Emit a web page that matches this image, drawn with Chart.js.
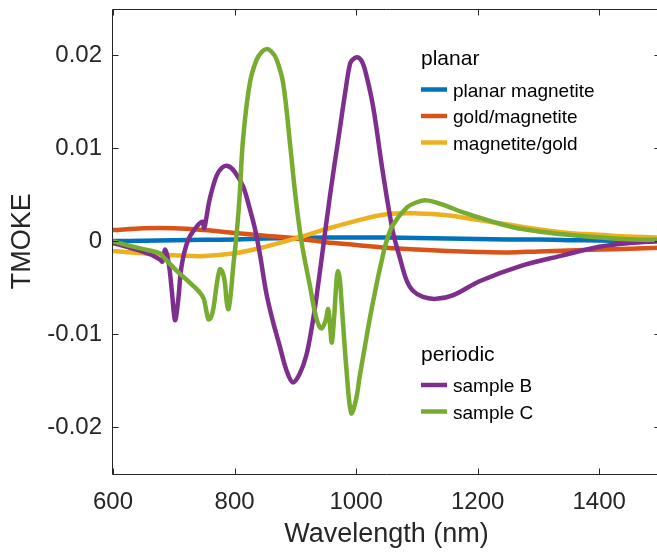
<!DOCTYPE html>
<html><head><meta charset="utf-8">
<script src="https://cdn.jsdelivr.net/npm/chart.js@4.4.1/dist/chart.umd.min.js"></script>
<style>
html,body{margin:0;padding:0;overflow:hidden;background:#fff;width:657px;height:552px}
#wrap{position:absolute;left:0;top:0;width:665px;height:552px}
</style>
</head><body><div id="wrap"><canvas id="c" width="665" height="552"></canvas></div>
<script>
// ---- data ----
const xTickValues = [600, 800, 1000, 1200, 1400];
const yTickValues = [-0.02, -0.01, 0, 0.01, 0.02];
const xRange = [600, 1500];
const yRange = [-0.025, 0.025];
const xTitle = 'Wavelength (nm)';
const yTitle = 'TMOKE';
const seriesNames = ['planar magnetite', 'gold/magnetite', 'magnetite/gold', 'sample B', 'sample C'];
const legendGroups = ['planar', 'periodic'];

const planarWl = [600,650,700,750,800,850,900,950,1000,1050,1100,1150,1200,1250,1300,1350,1400,1450,1500];
const planarMagnetite = [0.00003,0.00005,0.0001,0.00015,0.0002,0.0003,0.00035,0.0004,0.0004,0.0004,0.00035,0.0003,0.00025,0.0002,0.00018,0.00012,0.00008,0.00005,0.00003];
const goldMagnetite = [0.0012,0.0014,0.0014,0.0012,0.0009,0.0006,0.0003,-0.0001,-0.0004,-0.0007,-0.0009,-0.00105,-0.00115,-0.0012,-0.0011,-0.001,-0.0009,-0.0008,-0.0007];
const magnetiteGold = [-0.00105,-0.0013,-0.0015,-0.0016,-0.0013,-0.0006,0.0003,0.0013,0.0022,0.0029,0.003,0.0028,0.0023,0.0018,0.0013,0.0009,0.0007,0.0005,0.0004];

const sampleBWl = [600,628,661,678,681,686,692,697,702,707,713,724,738,747,750,753,759,770,779,789,800,814,825,833,842,852,863,874,885,896,907,918,927,935,946,957,965,973,982,990,995,1003,1010,1016,1028,1044,1060,1072,1083,1093,1110,1132,1160,1203,1269,1335,1400,1450,1500];
const sampleB = [-0.0002,-0.0007,-0.0014,-0.002,-0.0022,-0.0009,-0.0025,-0.0055,-0.0085,-0.0065,-0.0026,0.0002,0.0016,0.0021,0.0014,0.0023,0.0045,0.007,0.0079,0.0081,0.0075,0.0059,0.0035,0.0015,-0.0015,-0.0055,-0.0086,-0.0112,-0.0138,-0.0152,-0.0143,-0.0123,-0.0093,-0.0059,-0.0005,0.0049,0.0085,0.012,0.016,0.0191,0.0196,0.0198,0.0193,0.0181,0.0145,0.0074,0.0012,-0.0018,-0.0042,-0.0053,-0.006,-0.0062,-0.0058,-0.0043,-0.0027,-0.0016,-0.0006,-0.0002,0];

const sampleCWl = [600,628,660,677,683,705,732,748,753,757,761,765,771,776,780,784,787,790,794,798,803,808,814,825,836,845,853,861,869,880,892,900,910,924,935,943,950,954,957,960,964,968,970,973,976,984,992,1000,1006,1014,1022,1031,1039,1050,1061,1083,1100,1115,1140,1176,1220,1258,1300,1340,1380,1422,1460,1500];
const sampleC = [0,-0.0005,-0.001,-0.0013,-0.0017,-0.0032,-0.0048,-0.006,-0.0073,-0.0084,-0.0082,-0.0073,-0.0045,-0.003,-0.0033,-0.0044,-0.0065,-0.0073,-0.0055,-0.0026,0.0005,0.0045,0.011,0.017,0.0195,0.0204,0.0207,0.0204,0.0196,0.017,0.01,0.005,0,-0.0048,-0.0084,-0.0094,-0.0085,-0.0073,-0.009,-0.0109,-0.008,-0.004,-0.0032,-0.004,-0.0065,-0.0137,-0.0185,-0.017,-0.0145,-0.0115,-0.0085,-0.0055,-0.003,0,0.0018,0.0036,0.0042,0.0044,0.004,0.0031,0.0022,0.0015,0.00105,0.00075,0.0005,0.0003,0.0002,0.00015];

// ---- styling ----
const FONT = '"Liberation Sans", Arial, Helvetica, sans-serif';
const AXIS_COLOR = '#262626';
const colors = ['#0072BD', '#D95319', '#EDB120', '#7E2F8E', '#77AC30'];

const pairs = (xs, ys) => xs.map((x, i) => ({x: x, y: ys[i]}));

const datasets = [
  {label: seriesNames[0], data: pairs(planarWl, planarMagnetite), borderColor: colors[0], order: 5},
  {label: seriesNames[1], data: pairs(planarWl, goldMagnetite), borderColor: colors[1], order: 4},
  {label: seriesNames[2], data: pairs(planarWl, magnetiteGold), borderColor: colors[2], order: 3},
  {label: seriesNames[3], data: pairs(sampleBWl, sampleB), borderColor: colors[3], order: 2},
  {label: seriesNames[4], data: pairs(sampleCWl, sampleC), borderColor: colors[4], order: 1}
];

const boxPlugin = {
  id: 'boxTicks',
  afterDatasetsDraw(chart) {
    const {ctx, chartArea: a, scales: {x, y}} = chart;
    const L = 6;
    ctx.save();
    ctx.strokeStyle = AXIS_COLOR;
    ctx.lineWidth = 1;
    ctx.beginPath();
    const left = Math.round(a.left) - 0.5, right = Math.round(a.right) + 0.5;
    const top = Math.round(a.top) + 0.5, bottom = Math.round(a.bottom) + 0.5;
    ctx.moveTo(left, top); ctx.lineTo(right, top); ctx.lineTo(right, bottom); ctx.lineTo(left, bottom); ctx.closePath();
    xTickValues.forEach(v => {
      const px = Math.round(x.getPixelForValue(v)) + 0.5;
      ctx.moveTo(px, bottom); ctx.lineTo(px, bottom - L);
      ctx.moveTo(px, top); ctx.lineTo(px, top + L);
    });
    yTickValues.forEach(v => {
      const py = Math.round(y.getPixelForValue(v)) + 0.5;
      ctx.moveTo(left, py); ctx.lineTo(left + L, py);
      ctx.moveTo(right, py); ctx.lineTo(right - L, py);
    });
    ctx.stroke();
    ctx.restore();
  }
};

const legendPlugin = {
  id: 'groupLegend',
  afterDraw(chart) {
    const ctx = chart.ctx;
    const groups = [
      {title: legendGroups[0], titleY: 65, items: [0, 1, 2], lineY: [89.5, 116, 142.5]},
      {title: legendGroups[1], titleY: 361, items: [3, 4], lineY: [385, 411.5]}
    ];
    ctx.save();
    ctx.textBaseline = 'alphabetic';
    ctx.textAlign = 'left';
    groups.forEach(g => {
      ctx.fillStyle = '#000';
      ctx.font = '21px ' + FONT;
      ctx.fillText(g.title, 421, g.titleY);
      g.items.forEach((idx, k) => {
        const ly = g.lineY[k];
        ctx.strokeStyle = colors[idx];
        ctx.lineWidth = 4.5;
        ctx.lineCap = 'butt';
        ctx.beginPath();
        ctx.moveTo(421, ly); ctx.lineTo(447, ly);
        ctx.stroke();
        ctx.fillStyle = '#000';
        ctx.font = '19px ' + FONT;
        ctx.fillText(seriesNames[idx], 453, ly + 7);
      });
    });
    ctx.restore();
  }
};

new Chart(document.getElementById('c'), {
  type: 'line',
  data: {datasets: datasets},
  plugins: [boxPlugin, legendPlugin],
  options: {
    responsive: false,
    animation: false,
    devicePixelRatio: 1,
    layout: {padding: {top: 9, right: 5, left: 0, bottom: 0}},
    plugins: {legend: {display: false}, tooltip: {enabled: false}},
    elements: {
      point: {radius: 0, hoverRadius: 0},
      line: {borderWidth: 4.5, tension: 0.35, borderJoinStyle: 'round', borderCapStyle: 'butt', fill: false}
    },
    scales: {
      x: {
        type: 'linear', min: xRange[0], max: xRange[1],
        grid: {display: false, drawTicks: false},
        border: {display: false},
        afterBuildTicks: s => { s.ticks = xTickValues.map(v => ({value: v})); },
        afterFit: s => { s.height = 78.5; s.paddingLeft = 0; s.paddingRight = 0; },
        ticks: {padding: 14, color: AXIS_COLOR, font: {family: FONT, size: 24}, maxRotation: 0, autoSkip: false, callback: v => String(v)},
        title: {display: true, text: xTitle, color: AXIS_COLOR, font: {family: FONT, size: 27}, padding: {top: 0, bottom: 1}}
      },
      y: {
        type: 'linear', min: yRange[0], max: yRange[1],
        grid: {display: false, drawTicks: false},
        border: {display: false},
        afterBuildTicks: s => { s.ticks = yTickValues.map(v => ({value: v})); },
        afterFit: s => { s.width = 113; s.paddingTop = 0; s.paddingBottom = 0; },
        ticks: {padding: 11, color: AXIS_COLOR, font: {family: FONT, size: 24}, autoSkip: false, callback: v => String(v)},
        title: {display: true, text: yTitle, color: AXIS_COLOR, font: {family: FONT, size: 27}, padding: {top: 6, bottom: 0}}
      }
    }
  }
});
</script>
</body></html>
